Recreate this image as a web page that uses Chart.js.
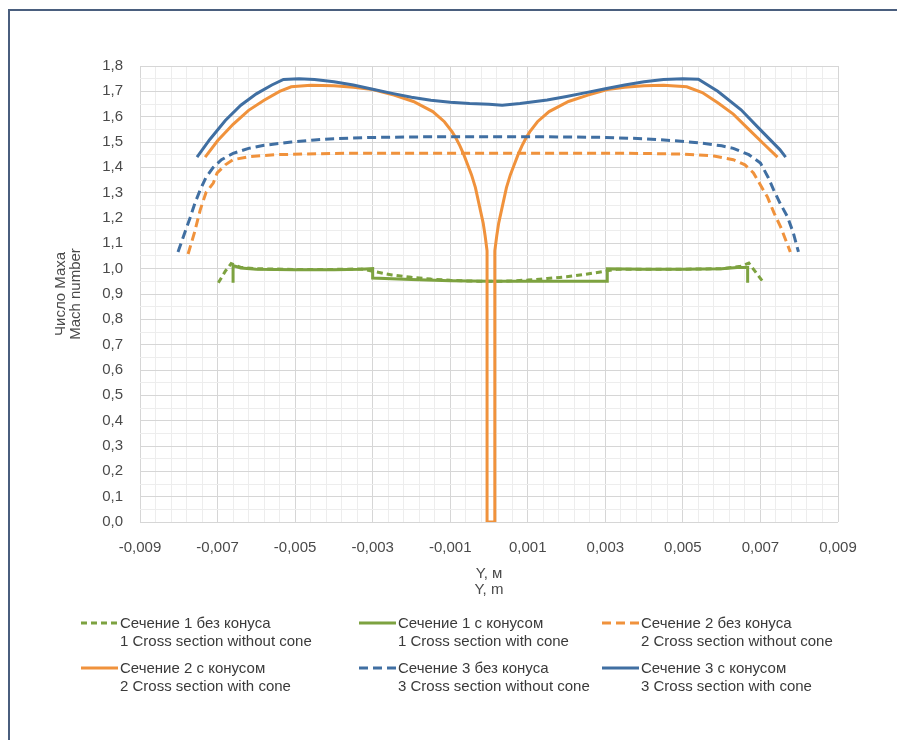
<!DOCTYPE html>
<html>
<head>
<meta charset="utf-8">
<script src="https://cdn.jsdelivr.net/npm/chart.js@4.4.1/dist/chart.umd.min.js"></script>
<style>
html,body{margin:0;padding:0;background:#fff;}
#wrap{position:relative;width:897px;height:740px;overflow:hidden;font-family:"Liberation Sans",Arial,sans-serif;}
#frame{position:absolute;left:8px;top:9px;width:1000px;height:1000px;border-left:2px solid #4a5e7e;border-top:2px solid #4a5e7e;box-sizing:border-box;}
#c{position:absolute;left:0;top:0;}
.lg{position:absolute;font-size:15px;color:#3a3a3a;line-height:18px;white-space:nowrap;}
.lg svg{position:absolute;left:-39px;top:6px;}
</style>
</head>
<body>
<div id="wrap">
  <div id="frame"></div>
  <canvas id="c" width="897" height="740"></canvas>
  <div id="legend"></div>
</div>
<script>
// ---- data (Y in metres, Mach number) ----
const s1NoCone = [[-0.00698,0.944],[-0.0068,0.99],[-0.00665,1.02],[-0.0064,1.005],[-0.006,1.0],[-0.005,0.997],[-0.004,0.997],[-0.0033,0.999],[-0.003,0.99],[-0.0025,0.975],[-0.002,0.966],[-0.0015,0.959],[-0.001,0.954],[-0.0005,0.951],[0,0.95],[0.0005,0.951],[0.001,0.955],[0.0015,0.961],[0.002,0.968],[0.0025,0.978],[0.003,0.99],[0.0033,0.998],[0.004,0.998],[0.005,0.998],[0.006,1.0],[0.0065,1.01],[0.0067,1.022],[0.00705,0.951]];
const s1Cone = [[-0.0066,0.944],[-0.0066,1.012],[-0.0064,1.003],[-0.006,0.998],[-0.005,0.996],[-0.004,0.996],[-0.0033,0.998],[-0.003,1.0],[-0.003,0.963],[-0.002,0.957],[-0.001,0.952],[0,0.95],[0.001,0.95],[0.002,0.95],[0.00305,0.95],[0.00305,1.0],[0.004,0.998],[0.005,0.998],[0.006,1.0],[0.0064,1.005],[0.00667,1.005],[0.00667,0.944]];
const s2NoCone = [[-0.00776,1.058],[-0.0076,1.14],[-0.00745,1.23],[-0.0073,1.30],[-0.00711,1.338],[-0.00701,1.378],[-0.0068,1.41],[-0.0066,1.43],[-0.0062,1.442],[-0.0055,1.45],[-0.004,1.455],[-0.002,1.456],[0,1.456],[0.002,1.456],[0.004,1.455],[0.005,1.452],[0.0058,1.445],[0.0063,1.43],[0.0066,1.41],[0.00682,1.378],[0.007,1.33],[0.00718,1.283],[0.00735,1.22],[0.00752,1.165],[0.00777,1.066]];
const s2Cone = [[-0.00732,1.44],[-0.007,1.505],[-0.0066,1.57],[-0.0062,1.625],[-0.0058,1.665],[-0.0054,1.70],[-0.0051,1.718],[-0.0046,1.724],[-0.004,1.722],[-0.0035,1.716],[-0.003,1.707],[-0.00245,1.685],[-0.00195,1.66],[-0.00145,1.62],[-0.00115,1.58],[-0.00095,1.54],[-0.00085,1.515],[-0.00075,1.485],[-0.00065,1.45],[-0.00055,1.41],[-0.00045,1.37],[-0.00035,1.32],[-0.00025,1.25],[-0.00015,1.18],[-0.0001,1.13],[-0.00005,1.07],[-0.00005,0],[0.00015,0],[0.00015,1.07],[0.0002,1.13],[0.00025,1.18],[0.00035,1.25],[0.00045,1.32],[0.00055,1.37],[0.00065,1.41],[0.00075,1.45],[0.00085,1.485],[0.00095,1.515],[0.00105,1.54],[0.00125,1.58],[0.00155,1.62],[0.00205,1.66],[0.00255,1.685],[0.00305,1.707],[0.0035,1.716],[0.004,1.722],[0.0045,1.724],[0.0051,1.718],[0.0055,1.695],[0.0059,1.655],[0.0063,1.61],[0.0067,1.55],[0.0071,1.49],[0.00744,1.44]];
const s3NoCone = [[-0.00802,1.066],[-0.00785,1.14],[-0.00771,1.20],[-0.00758,1.26],[-0.00745,1.31],[-0.0073,1.36],[-0.00711,1.40],[-0.0069,1.43],[-0.0066,1.455],[-0.0062,1.475],[-0.0058,1.487],[-0.0051,1.50],[-0.0045,1.508],[-0.004,1.513],[-0.003,1.518],[-0.002,1.52],[-0.001,1.521],[0,1.521],[0.001,1.521],[0.002,1.52],[0.003,1.518],[0.004,1.513],[0.0048,1.505],[0.0055,1.495],[0.006,1.485],[0.0063,1.475],[0.0067,1.45],[0.007,1.417],[0.0072,1.36],[0.00734,1.311],[0.0075,1.26],[0.0077,1.204],[0.00785,1.14],[0.00798,1.066]];
const s3Cone = [[-0.00753,1.44],[-0.0072,1.51],[-0.0068,1.585],[-0.0064,1.645],[-0.006,1.69],[-0.0056,1.725],[-0.0053,1.747],[-0.0049,1.75],[-0.0045,1.747],[-0.004,1.738],[-0.0035,1.725],[-0.003,1.708],[-0.0025,1.692],[-0.002,1.677],[-0.0015,1.665],[-0.001,1.657],[-0.0005,1.652],[0,1.649],[0.00034,1.645],[0.0008,1.652],[0.0015,1.666],[0.002,1.68],[0.0025,1.695],[0.003,1.71],[0.0035,1.725],[0.004,1.738],[0.0045,1.747],[0.005,1.75],[0.0054,1.748],[0.0059,1.70],[0.0065,1.627],[0.007,1.548],[0.0075,1.47],[0.00765,1.44]];

const seriesLabels = [
  ['Сечение 1 без конуса','1 Cross section without cone'],
  ['Сечение 1 с конусом','1 Cross section with cone'],
  ['Сечение 2 без конуса','2 Cross section without cone'],
  ['Сечение 2 с конусом','2 Cross section with cone'],
  ['Сечение 3 без конуса','3 Cross section without cone'],
  ['Сечение 3 с конусом','3 Cross section with cone']
];
const xTitle = ['Y, м','Y, m'];
const yTitle = ['Число Маха','Mach number'];
const xMin = -0.009, xMax = 0.009, xMinorStep = 0.0004;
const yMin = 0, yMax = 1.8, yMinorStep = 0.05;

// ---- styles ----
const GREEN = '#7da240', ORANGE = '#f0923c', BLUE = '#406fa2';
const styles = [
  {color: GREEN, dash: [6,4]},
  {color: GREEN, dash: []},
  {color: ORANGE, dash: [9,5]},
  {color: ORANGE, dash: []},
  {color: BLUE, dash: [9,5]},
  {color: BLUE, dash: []}
];
const allData = [s1NoCone, s1Cone, s2NoCone, s2Cone, s3NoCone, s3Cone];

const xTicks = [];
for (let k = 0; k <= Math.round((xMax - xMin) / xMinorStep); k++) xTicks.push(+(xMin + k * xMinorStep).toFixed(5));
const yTicks = [];
for (let k = 0; k <= Math.round((yMax - yMin) / yMinorStep); k++) yTicks.push(+(yMin + k * yMinorStep).toFixed(3));

const FONT = '"Liberation Sans", Arial, sans-serif';
const TXT = '#4a4a4a';

const datasets = allData.map((d, i) => ({
  label: seriesLabels[i].join(' / '),
  data: d.map(p => ({x: p[0], y: p[1]})),
  showLine: true,
  borderColor: styles[i].color,
  backgroundColor: styles[i].color,
  borderDash: styles[i].dash,
  borderWidth: 3,
  pointRadius: 0,
  tension: 0,
  fill: false,
  order: 6 - i
}));

new Chart(document.getElementById('c'), {
  type: 'scatter',
  data: {datasets},
  options: {
    responsive: false,
    animation: false,
    events: [],
    layout: {padding: {left: 0, top: 66, right: 59, bottom: 142}},
    plugins: {legend: {display: false}, tooltip: {enabled: false}},
    scales: {
      x: {
        type: 'linear', min: xMin, max: xMax,
        afterBuildTicks: s => { s.ticks = xTicks.map(v => ({value: v})); },
        afterFit: s => { s.height = 76; },
        ticks: {
          autoSkip: false, maxRotation: 0, minRotation: 0, padding: 17,
          font: {size: 15, family: FONT}, color: TXT,
          callback: (v, i) => i % 5 === 0 ? Number(v).toFixed(3).replace('.', ',') : ''
        },
        grid: {drawTicks: false, lineWidth: 1, color: c => (c.index % 5 === 0 ? '#d6d6d6' : '#ededed')},
        border: {display: false},
        title: {display: true, text: xTitle, color: TXT, font: {size: 15, family: FONT, lineHeight: 1.07}, padding: {top: 0, bottom: 0}}
      },
      y: {
        type: 'linear', min: yMin, max: yMax,
        afterBuildTicks: s => { s.ticks = yTicks.map(v => ({value: v})); },
        afterFit: s => { s.width = 140; },
        ticks: {
          autoSkip: false, padding: 17,
          font: {size: 15, family: FONT}, color: TXT,
          callback: (v, i) => i % 2 === 0 ? Number(v).toFixed(1).replace('.', ',') : ''
        },
        grid: {drawTicks: false, lineWidth: 1, color: c => (c.index % 2 === 0 ? '#d6d6d6' : '#ededed')},
        border: {display: false},
        title: {display: true, text: yTitle, color: TXT, font: {size: 15, family: FONT, lineHeight: 1.0}, padding: {top: 53, bottom: 0}}
      }
    }
  }
});

// ---- HTML legend ----
const legendCols = [120, 398, 641];
const legendRows = [614, 659];
const lg = document.getElementById('legend');
seriesLabels.forEach((lab, i) => {
  const div = document.createElement('div');
  div.className = 'lg';
  div.style.left = legendCols[i % 3] + 'px';
  div.style.top = legendRows[Math.floor(i / 3)] + 'px';
  const dash = styles[i].dash.length ? ` stroke-dasharray="${styles[i].dash.join(',')}"` : '';
  div.innerHTML = `<svg width="37" height="6"><line x1="0" y1="3" x2="37" y2="3" stroke="${styles[i].color}" stroke-width="3"${dash}/></svg>${lab[0]}<br>${lab[1]}`;
  lg.appendChild(div);
});
</script>
</body>
</html>
